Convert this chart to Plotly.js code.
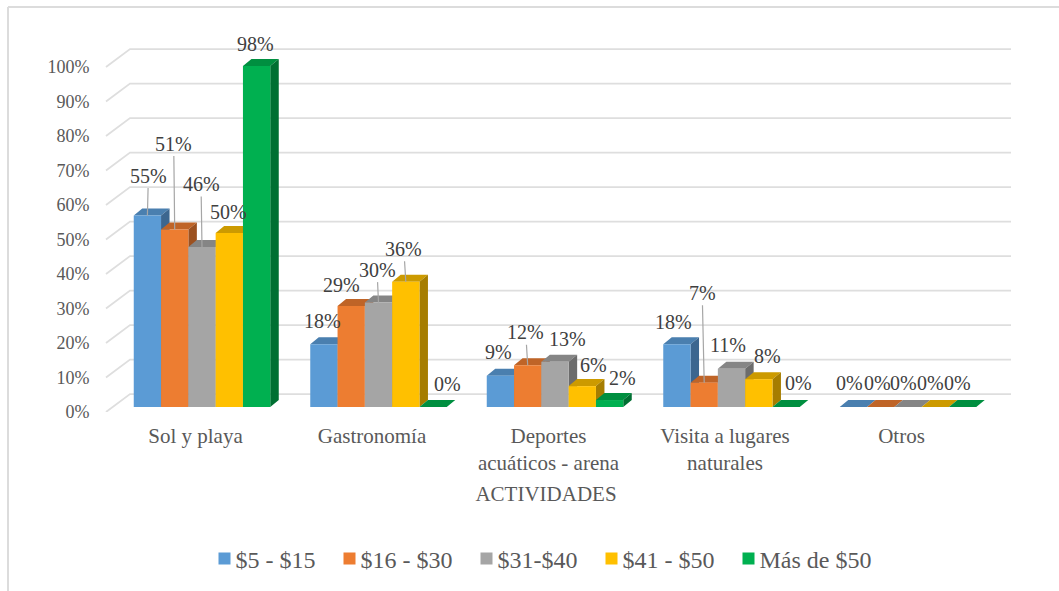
<!DOCTYPE html>
<html>
<head>
<meta charset="utf-8">
<script src="https://cdn.plot.ly/plotly-3.0.1.min.js"></script>
<style>html,body{margin:0;padding:0;background:#fff;}#chart{width:1059px;height:591px;}</style>
</head>
<body>
<div id="chart"></div>
<script>
// ---- data ----
const categories = ["Sol y playa", "Gastronomía", "Deportes<br>acuáticos - arena", "Visita a lugares<br>naturales", "Otros"];
const seriesNames = ["$5 - $15", "$16 - $30", "$31-$40", "$41 - $50", "Más de $50"];
const s5to15 = [55, 18, 9, 18, 0];
const s16to30 = [51, 29, 12, 7, 0];
const s31to40 = [46, 30, 13, 11, 0];
const s41to50 = [50, 36, 6, 8, 0];
const sOver50 = [98, 0, 2, 0, 0];
const tickValues = [0, 10, 20, 30, 40, 50, 60, 70, 80, 90, 100];
const tickLabels = tickValues.map(v => v + "%");
const allSeries = [s5to15, s16to30, s31to40, s41to50, sOver50];

// ---- styling ----
const frontColors = ["#5B9BD5", "#ED7D31", "#A5A5A5", "#FFC000", "#00B050"];
const topColors   = ["#4A7FAF", "#BF6427", "#858585", "#CC9A00", "#008F40"];
const sideColors  = ["#3C668F", "#9C5120", "#6C6C6C", "#A67D00", "#006F32"];
const serif = "Liberation Serif, Times New Roman, serif";
const grey = "#595959";
const gridColor = "#DEDEDE";

// label offsets from the bar's front-top centre, px: [dx, dy, hasLeader]
const labelNudge = [
  [[1,-40,1],[-1,-23,0],[-2,-24,0],[-3,-22,0],[-4,-24,0]],
  [[-1,-86,1],[-10,-21,0],[-2,-33,1],[-2,-90,1],[-3.5,-24,0]],
  [[-1,-63,1],[-1.5,-33,1],[12,-23,0],[-3.5,-24,0],[-4.5,-24,0]],
  [[-1,-21,0],[-2,-33,1],[11,-21,0],[9,-23,0],[-5,-24,0]],
  [[-1.6,-22,0],[14,-23,0],[13,-22,0],[12,-24,0],[-5,-24,0]]
];

// ---- geometry (px on the page) ----
const plotL = 81, plotR = 1011, plotT = 44, wallZero = 412, barZero = 407, axisPx = 106;
const pxPerCat = 176.5, firstCentre = 202;
const wallPxPerPct = 3.45, barPxPerPct = 3.48;
const barPx = 27.3, depthX = 8.5, depthY = 7;
const toX = px => (px - firstCentre) / pxPerCat;
const W = barPx / pxPerCat, DX = depthX / pxPerCat, DY = depthY / barPxPerPct;
const xRange = [toX(plotL), toX(plotR)];
const wallRange = [0, (wallZero - plotT) / wallPxPerPct];
const barRange = [-(wallZero - barZero) / barPxPerPct, (barZero - plotT) / barPxPerPct];

const traces = [];

// walls: grid lines bend from the front edge to the back wall
const gx = [], gy = [], backLift = 5.2;
tickValues.forEach(v => {
  gx.push(toX(106), toX(130), toX(1011), null);
  gy.push(v, v + backLift, v + backLift, null);
});
traces.push({type: "scatter", mode: "lines", x: gx, y: gy, xaxis: "x", yaxis: "y",
  line: {color: gridColor, width: 1.8}, hoverinfo: "skip", showlegend: false});

// top and side faces, left to right, under the fronts
allSeries.forEach((vals, s) => {
  const tx = [], ty = [], sx = [], sy = [];
  vals.forEach((v, i) => {
    const x0 = i + (s - 2.5) * W, x1 = x0 + W;
    tx.push(x0, x0 + DX, x1 + DX, x1, x0, null);
    ty.push(v, v + DY, v + DY, v, v, null);
    sx.push(x1, x1 + DX, x1 + DX, x1, x1, null);
    sy.push(0, DY, v + DY, v, 0, null);
  });
  traces.push({type: "scatter", mode: "lines", x: tx, y: ty, xaxis: "x", yaxis: "y2", fill: "toself",
    fillcolor: topColors[s], line: {width: 0, color: topColors[s]}, hoverinfo: "skip", showlegend: false});
  traces.push({type: "scatter", mode: "lines", x: sx, y: sy, xaxis: "x", yaxis: "y2", fill: "toself",
    fillcolor: sideColors[s], line: {width: 0, color: sideColors[s]}, hoverinfo: "skip", showlegend: false});
});

// fronts
allSeries.forEach((vals, s) => {
  traces.push({type: "bar", name: seriesNames[s], x: categories.map((c, i) => i), y: vals,
    xaxis: "x", yaxis: "y3", marker: {color: frontColors[s], line: {width: 0}}});
});

// data labels
const annotations = [];
allSeries.forEach((vals, s) => {
  vals.forEach((v, i) => {
    const [dx, dy, leader] = labelNudge[s][i];
    const a = {x: i + (s - 2) * W, y: v, xref: "x", yref: "y3", text: v + "%",
      font: {family: serif, size: 20, color: "#404040"}, align: "center"};
    if (leader) {
      Object.assign(a, {showarrow: true, arrowhead: 0, arrowwidth: 1.2, arrowcolor: "#A6A6A6", ax: dx, ay: dy, standoff: 0});
    } else {
      Object.assign(a, {showarrow: false, xshift: dx, yshift: -dy, xanchor: "center", yanchor: "middle"});
    }
    annotations.push(a);
  });
});

// frame of the chart area
const pw = plotR - plotL, ph = wallZero - plotT;
const paperX = px => (px - plotL) / pw, paperY = py => (wallZero - py) / ph;
const frame = {color: "#DCDCDC", width: 2};
const shapes = [
  {type: "line", xref: "paper", yref: "paper", x0: paperX(8), x1: paperX(1059), y0: paperY(7), y1: paperY(7), line: frame, layer: "below"},
  {type: "line", xref: "paper", yref: "paper", x0: paperX(8), x1: paperX(8), y0: paperY(7), y1: paperY(591), line: frame, layer: "below"}
];

const layout = {
  width: 1059, height: 591,
  margin: {l: plotL, r: 1059 - plotR, t: plotT, b: 591 - wallZero, pad: 0},
  paper_bgcolor: "#fff", plot_bgcolor: "rgba(0,0,0,0)",
  font: {family: serif, color: grey},
  barmode: "group", bargap: 1 - 5 * W, bargroupgap: 0,
  showlegend: true,
  legend: {orientation: "h", xref: "container", yref: "container", x: 536 / 1059, xanchor: "center", y: 1 - 559 / 591, yanchor: "middle",
    font: {family: serif, size: 24, color: grey}, traceorder: "normal", bgcolor: "rgba(0,0,0,0)"},
  xaxis: {range: xRange, tickmode: "array", tickvals: categories.map((c, i) => i - 6.5 / pxPerCat), ticktext: categories,
    tickfont: {family: serif, size: 21, color: grey}, ticks: "", ticklabelstandoff: 9, showgrid: false, zeroline: false, showline: false,
    tickangle: 0, fixedrange: true, automargin: false,
    title: {text: "ACTIVIDADES", font: {family: serif, size: 21, color: grey}, standoff: 12}},
  yaxis: {range: wallRange, tickmode: "array", tickvals: tickValues, ticktext: tickLabels,
    anchor: "free", position: paperX(axisPx),
    tickfont: {family: serif, size: 18, color: grey}, ticks: "outside", ticklen: 13, tickcolor: "rgba(0,0,0,0)", tickwidth: 1,
    showgrid: false, zeroline: false, showline: false, fixedrange: true, automargin: false},
  yaxis2: {range: barRange, overlaying: "y", visible: false, fixedrange: true},
  yaxis3: {range: barRange, overlaying: "y", visible: false, fixedrange: true},
  annotations: annotations,
  shapes: shapes,
  hovermode: false
};

Plotly.newPlot("chart", traces, layout, {displayModeBar: false, responsive: false}).then(gd => {
  // legend swatch sits closer to its text than Plotly's default
  gd.querySelectorAll(".legend .legendpoints").forEach(n => n.setAttribute("transform", "translate(9,0)"));
});
</script>
</body>
</html>
